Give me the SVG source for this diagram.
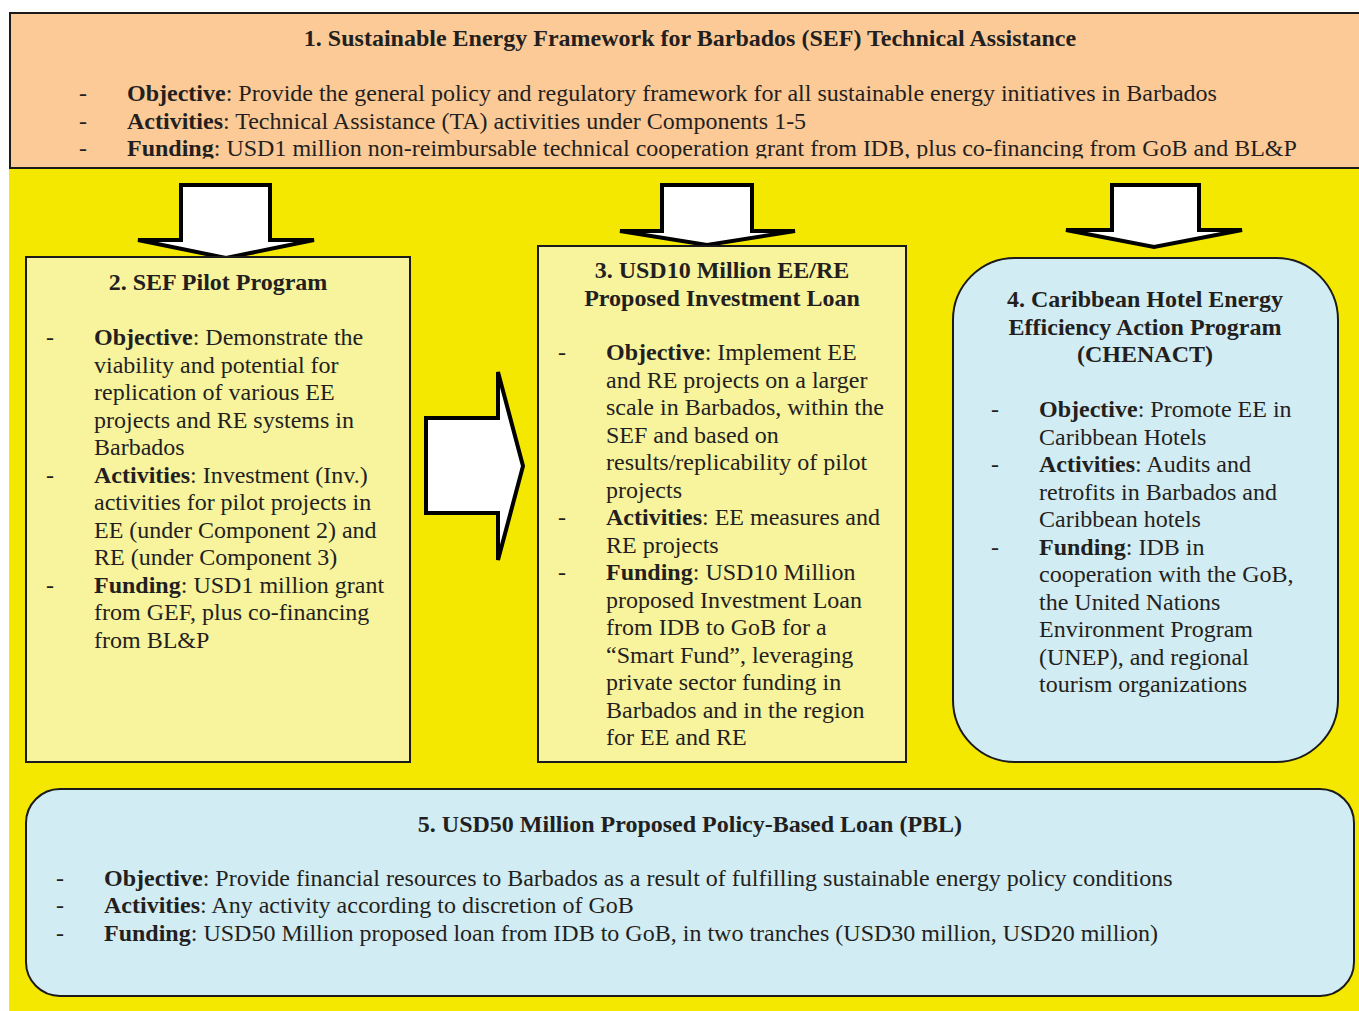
<svg xmlns="http://www.w3.org/2000/svg" width="1359" height="1011" viewBox="0 0 1359 1011">
<style>
text{font-family:"Liberation Serif","Times New Roman",serif;font-size:24px;fill:#231F20}
.t{font-weight:bold;text-anchor:middle}
.b{font-weight:bold}
.box{stroke:#1a1a1a;stroke-width:2}
.arrow{fill:#ffffff;stroke:#000000;stroke-width:4;stroke-linejoin:miter}
</style>
<defs>
<clipPath id="topclip"><rect x="10" y="13" width="1349" height="145.5"/></clipPath>
</defs>
<rect x="0" y="0" width="1359" height="1011" fill="#ffffff"/>
<rect x="9" y="168" width="1350" height="843" fill="#F5E800"/>

<g id="node1">
<rect class="box" x="10" y="13" width="1352" height="155" fill="#FCCA97"/>
<g clip-path="url(#topclip)">
<text class="t" x="690" y="46">1. Sustainable Energy Framework for Barbados (SEF) Technical Assistance</text>
<text x="79" y="101">-</text><text x="127" y="101"><tspan class="b">Objective</tspan>: Provide the general policy and regulatory framework for all sustainable energy initiatives in Barbados</text>
<text x="79" y="128.5">-</text><text x="127" y="128.5"><tspan class="b">Activities</tspan>: Technical Assistance (TA) activities under Components 1-5</text>
<text x="79" y="156">-</text><text x="127" y="156"><tspan class="b">Funding</tspan>: USD1 million non-reimbursable technical cooperation grant from IDB, plus co-financing from GoB and BL&amp;P</text>
</g>
</g>

<g id="connectors">
<polygon class="arrow" points="181,185 270,185 270,240 314,240 226,258 138,240 181,240"/>
<polygon class="arrow" points="662,185 752,185 752,231 795,231 707,245 620,231 662,231"/>
<polygon class="arrow" points="1112,185 1199,185 1199,230 1242,230 1154,247 1066,230 1112,230"/>
<polygon class="arrow" points="426,418 498,418 498,372 523,466 498,560 498,513 426,513"/>
</g>

<g id="node2">
<rect class="box" x="26" y="257" width="384" height="505" fill="#F8F39D"/>
<text class="t" x="218" y="290">2. SEF Pilot Program</text>
<text x="46" y="345">-</text>
<text x="94" y="345"><tspan class="b">Objective</tspan>: Demonstrate the</text>
<text x="94" y="372.5">viability and potential for</text>
<text x="94" y="400">replication of various EE</text>
<text x="94" y="427.5">projects and RE systems in</text>
<text x="94" y="455">Barbados</text>
<text x="46" y="482.5">-</text>
<text x="94" y="482.5"><tspan class="b">Activities</tspan>: Investment (Inv.)</text>
<text x="94" y="510">activities for pilot projects in</text>
<text x="94" y="537.5">EE (under Component 2) and</text>
<text x="94" y="565">RE (under Component 3)</text>
<text x="46" y="592.5">-</text>
<text x="94" y="592.5"><tspan class="b">Funding</tspan>: USD1 million grant</text>
<text x="94" y="620">from GEF, plus co-financing</text>
<text x="94" y="647.5">from BL&amp;P</text>
</g>

<g id="node3">
<rect class="box" x="538" y="246" width="368" height="516" fill="#F8F39D"/>
<text class="t" x="722" y="278">3. USD10 Million EE/RE</text>
<text class="t" x="722" y="305.5">Proposed Investment Loan</text>
<text x="558" y="360">-</text>
<text x="606" y="360"><tspan class="b">Objective</tspan>: Implement EE</text>
<text x="606" y="387.5">and RE projects on a larger</text>
<text x="606" y="415">scale in Barbados, within the</text>
<text x="606" y="442.5">SEF and based on</text>
<text x="606" y="470">results/replicability of pilot</text>
<text x="606" y="497.5">projects</text>
<text x="558" y="525">-</text>
<text x="606" y="525"><tspan class="b">Activities</tspan>: EE measures and</text>
<text x="606" y="552.5">RE projects</text>
<text x="558" y="580">-</text>
<text x="606" y="580"><tspan class="b">Funding</tspan>: USD10 Million</text>
<text x="606" y="607.5">proposed Investment Loan</text>
<text x="606" y="635">from IDB to GoB for a</text>
<text x="606" y="662.5">“Smart Fund”, leveraging</text>
<text x="606" y="690">private sector funding in</text>
<text x="606" y="717.5">Barbados and in the region</text>
<text x="606" y="745">for EE and RE</text>
</g>

<g id="node4">
<rect class="box" x="953" y="258" width="385" height="504" rx="62" ry="62" fill="#D2ECF3"/>
<text class="t" x="1145" y="307">4. Caribbean Hotel Energy</text>
<text class="t" x="1145" y="334.5">Efficiency Action Program</text>
<text class="t" x="1145" y="362">(CHENACT)</text>
<text x="991" y="417">-</text>
<text x="1039" y="417"><tspan class="b">Objective</tspan>: Promote EE in</text>
<text x="1039" y="444.5">Caribbean Hotels</text>
<text x="991" y="472">-</text>
<text x="1039" y="472"><tspan class="b">Activities</tspan>: Audits and</text>
<text x="1039" y="499.5">retrofits in Barbados and</text>
<text x="1039" y="527">Caribbean hotels</text>
<text x="991" y="554.5">-</text>
<text x="1039" y="554.5"><tspan class="b">Funding</tspan>: IDB in</text>
<text x="1039" y="582">cooperation with the GoB,</text>
<text x="1039" y="609.5">the United Nations</text>
<text x="1039" y="637">Environment Program</text>
<text x="1039" y="664.5">(UNEP), and regional</text>
<text x="1039" y="692">tourism organizations</text>
</g>

<g id="node5">
<rect class="box" x="26" y="789" width="1328" height="207" rx="34" ry="34" fill="#D2ECF3"/>
<text class="t" x="690" y="832">5. USD50 Million Proposed Policy-Based Loan (PBL)</text>
<text x="56" y="885.5">-</text>
<text x="104" y="885.5"><tspan class="b">Objective</tspan>: Provide financial resources to Barbados as a result of fulfilling sustainable energy policy conditions</text>
<text x="56" y="913">-</text>
<text x="104" y="913"><tspan class="b">Activities</tspan>: Any activity according to discretion of GoB</text>
<text x="56" y="940.5">-</text>
<text x="104" y="940.5"><tspan class="b">Funding</tspan>: USD50 Million proposed loan from IDB to GoB, in two tranches (USD30 million, USD20 million)</text>
</g>
</svg>
